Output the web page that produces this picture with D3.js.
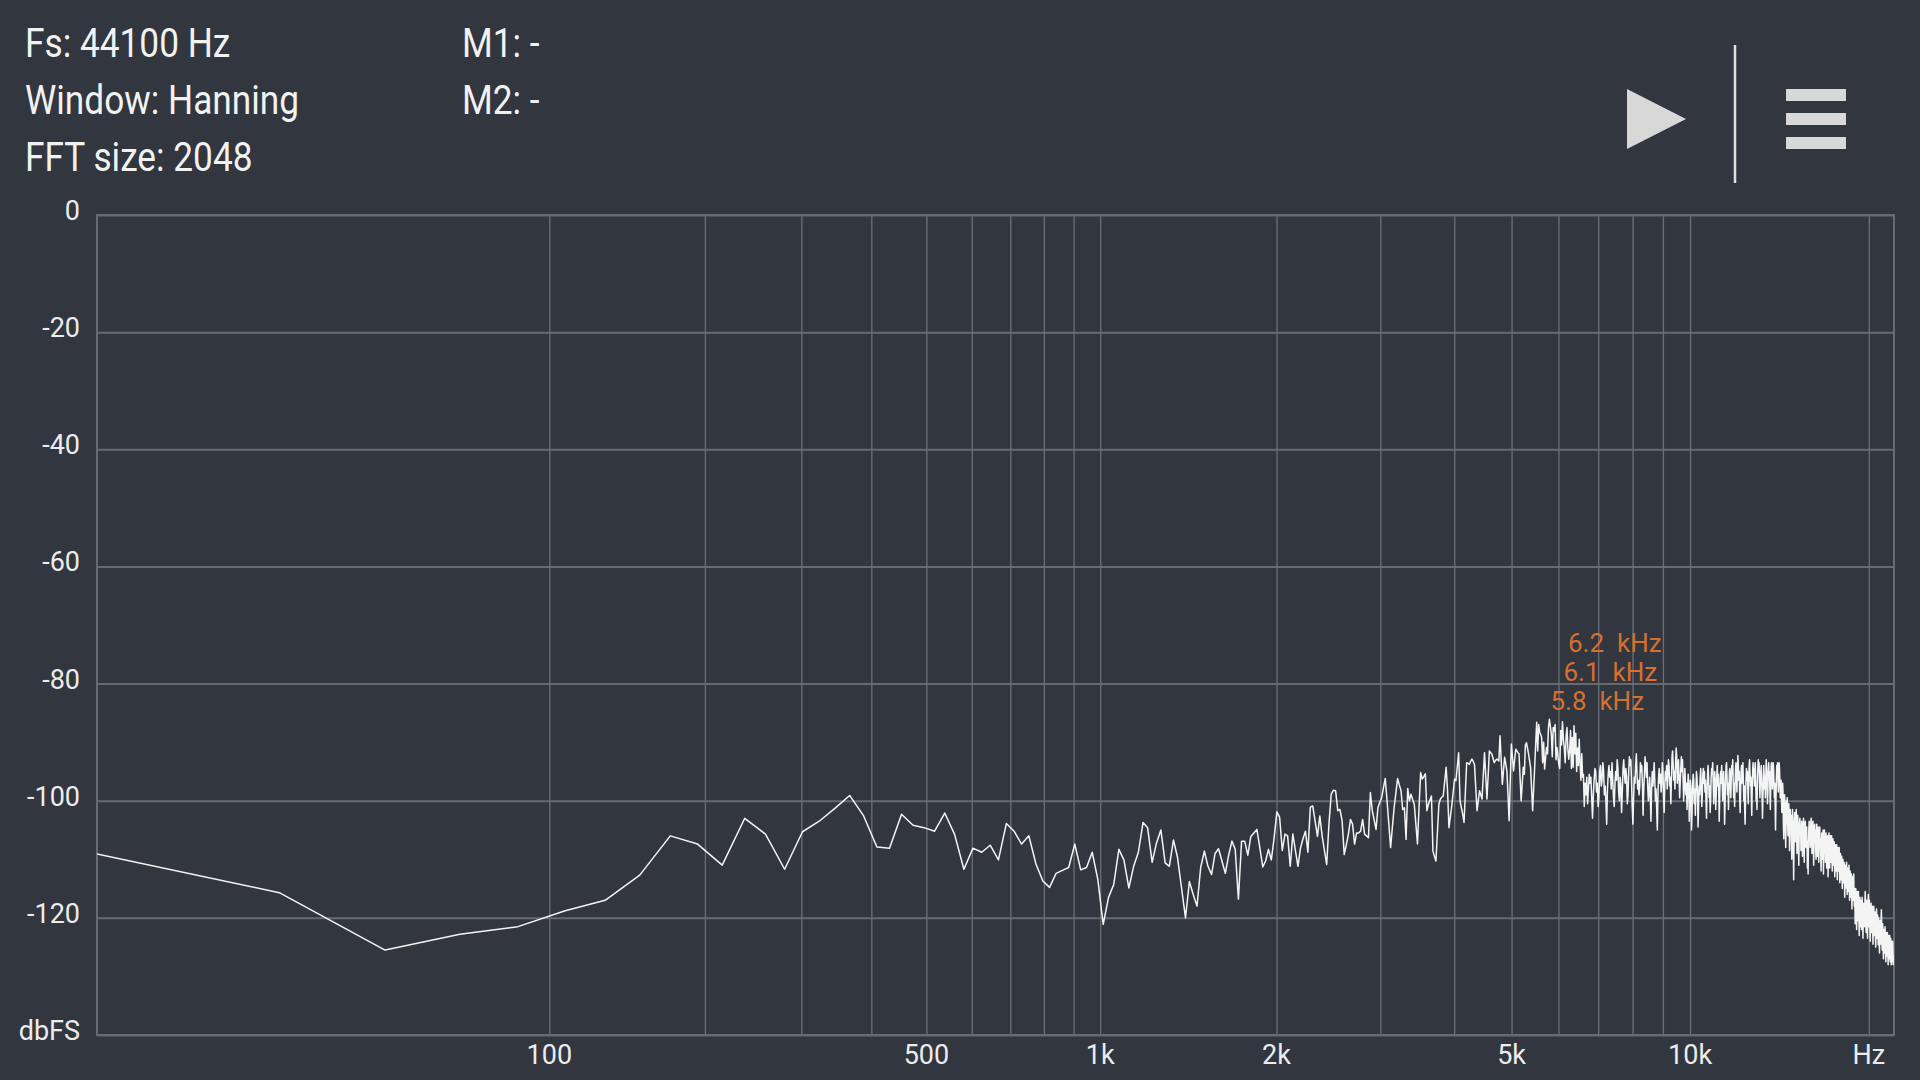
<!DOCTYPE html>
<html><head><meta charset="utf-8">
<script src="https://cdn.jsdelivr.net/npm/d3@7"></script>
<style>
html,body{margin:0;padding:0;background:#31363f;overflow:hidden;}
svg{display:block;}
text{font-family:Roboto,"Noto Sans",sans-serif;}
</style></head><body>
<svg id="chart" width="1920" height="1080"></svg>
<script>
// ---------- data ----------
const SAMPLE_RATE = 44100;
const FFT_SIZE = 2048;
const infoLines = ["Fs: 44100 Hz", "Window: Hanning", "FFT size: 2048"];
const markerSlots = ["M1: -", "M2: -"];

// magnitude per FFT bin (dBFS), bin k = k * SAMPLE_RATE / FFT_SIZE
const dbfs = [
-109.1,-115.7,-125.5,-122.8,-121.5,-118.8,-117.0,-112.7,-106.0,-107.4,
-111.0,-103.0,-105.7,-111.7,-105.3,-103.5,-101.3,-99.1,-102.6,-107.9,
-108.1,-102.3,-104.2,-104.6,-105.2,-102.1,-105.7,-111.7,-108.1,-108.8,
-107.6,-110.1,-103.9,-105.2,-107.4,-106.0,-110.8,-113.7,-114.8,-112.4,
-111.9,-111.4,-107.4,-111.8,-111.4,-108.8,-113.4,-121.1,-116.5,-114.3,
-108.3,-110.1,-114.9,-111.2,-108.8,-103.7,-104.6,-110.5,-107.2,-105.0,
-110.6,-111.2,-106.7,-109.7,-114.9,-120.0,-113.8,-116.0,-118.0,-111.4,
-108.6,-111.2,-112.6,-109.0,-108.2,-110.3,-112.4,-109.3,-106.9,-108.3,
-116.8,-106.9,-106.9,-109.3,-106.1,-105.5,-104.9,-108.0,-111.3,-110.3,
-108.3,-110.1,-106.4,-101.9,-102.8,-108.5,-105.7,-106.0,-111.2,-105.7,
-108.5,-111.2,-108.1,-106.5,-105.2,-108.8,-101.1,-100.9,-103.5,-106.1,
-102.6,-106.0,-108.5,-110.9,-104.0,-98.9,-98.2,-98.3,-101.7,-101.5,
-103.4,-109.2,-107.5,-105.7,-103.2,-104.0,-107.4,-105.5,-105.5,-105.2,
-103.2,-105.7,-106.0,-106.3,-98.6,-101.7,-103.3,-104.9,-101.2,-100.3,
-99.5,-97.8,-96.2,-100.0,-104.0,-108.0,-104.5,-101.2,-98.7,-96.2,
-97.3,-98.3,-101.5,-101.2,-106.6,-97.9,-100.0,-98.9,-99.8,-100.6,
-104.0,-107.4,-101.0,-95.2,-96.3,-95.9,-95.4,-101.7,-100.6,-99.9,
-99.2,-108.6,-109.5,-110.3,-105.4,-100.6,-99.7,-99.4,-99.2,-96.7,
-94.3,-98.3,-104.6,-102.7,-100.9,-98.6,-96.3,-96.6,-94.2,-91.8,
-100.0,-101.2,-102.3,-103.7,-98.6,-93.5,-93.6,-93.8,-93.3,-92.9,
-93.3,-93.8,-97.8,-101.7,-100.0,-98.3,-99.0,-99.7,-95.7,-91.8,
-95.8,-99.7,-95.6,-91.5,-91.8,-92.0,-92.7,-93.5,-93.2,-92.9,
-93.0,-93.2,-88.9,-93.0,-97.2,-94.9,-92.6,-93.7,-94.9,-99.1,
-103.4,-96.8,-90.3,-92.6,-94.9,-93.0,-91.2,-91.5,-91.8,-92.0,
-96.0,-100.0,-97.2,-94.3,-95.5,-90.5,-90.1,-91.0,-92.0,-93.2,
-94.3,-98.0,-101.7,-98.0,-94.3,-90.4,-86.6,-91.5,-87.0,-88.3,
-88.7,-89.2,-93.5,-90.0,-94.6,-92.7,-90.9,-92.0,-87.5,-86.1,
-87.3,-88.6,-92.5,-87.5,-88.1,-87.0,-93.0,-90.9,-92.3,-93.8,
-94.5,-88.0,-90.5,-86.5,-89.5,-91.0,-93.5,-89.0,-87.5,-91.2,
-92.9,-91.5,-88.0,-94.5,-89.2,-94.3,-87.2,-92.0,-88.5,-95.0,
-91.0,-94.0,-89.5,-93.5,-96.5,-92.0,-96.0,-95.5,-101.0,-97.0,
-99.0,
-96,-100.5,-98,-95.5,-97,-96,-99.5,-103,-99,-96.5,
-94.5,-95,-98.5,-97,-101,-99.5,-95,-94,-97.5,-96.5,
-93.5,-95,-99,-97.5,-100,-104,-98,-95.5,-94,-96,
-95,-98,-93.5,-96.5,-99.5,-101,-97,-95,-96.5,-93,
-94.5,-98.5,-100,-96,-97.5,-102,-98.5,-94.5,-93,-95.5,
-97,-94.5,-96,-100.5,-99,-95,-92.5,-94,-93,-96.5,
-101,-104,-99.5,-96,-97,-94,-92,-95.5,-98,-96.5,
-99,-97.5,-93.5,-95,-94,-97,-102.5,-98,-95.5,-92.5,
-94,-96,-93.5,-97.5,-100,-98.5,-96,-99.5,-103.5,-98,
-95,-97.5,-96,-93.5,-96.5,-100,-98,-101.5,-105,-99,
-96,-94.5,-97,-95.5,-98.5,-97,-93.5,-95,-99.5,-102,
-97.5,-95,-96.5,-94,-98,
-95.5,-93,-94,-97.5,-96,-100.5,-96.5,-92.5,-91.5,-94,
-96.5,-95,-98,-93.5,-91,-92.5,-97,-95.5,-93,-96,
-99.5,-97,-94.5,-92.5,-95,-93,-96.5,-100,-98,-94.5,
-96.5,-99,-97,-101.5,-98.5,-95.5,-97,-103.5,-100,-96.5,
-98,-105,-102,-97.5,-95.5,-96.5,-100.5,-98,-102.5,-99,
-95,-96,-98.5,-104.5,-101,-97.5,-99,-96,-94.5,-97.5,
-101,-99,-95.5,-94.5,-97,
-95,-98.5,-96.5,-100,-103,-98.5,-95.5,-94,-96,-99.5,
-97.5,-102,-100,-96,-94.5,-95.5,-93.5,-97,-100.5,-98,
-95,-96.5,-101.5,-99,-96,-94,-97.5,-95.5,-98.5,-103.5,
-99.5,-96,-95,-97,-94,-96.5,-100,-97.5,-95,-98,
-104,-100.5,-96.5,-94,-93.5,-96,-99,-97,-101.5,-98,
-95,-94.5,-97.5,-99.5,-96,
-94,-95.5,-93,-96.5,-99.5,-97,-101,-97.5,-94.5,-93.5,
-96,-98.5,-95.5,-92.3,-94,-96.5,-95,-99.5,-102,-98.5,
-95,-94,-97,-95.5,-93.5,-96.5,-100,-97.5,-101.5,-104,
-99,-96,-94.5,-96.5,-95,-98,-100.5,-96.5,-94,-93,
-95.5,-97.5,-96,-99.5,-102.5,-98,-95,-93.5,-96,-94.5,
-97.5,-95,-93.5,-96.5,-100,-98.5,-101.5,-97,-94.5,-93,
-95,-93.5,-97,-99.5,-96.5,-95,-94,-96.5,-99,-103,
-99.5,-96.5,-94,-95.5,-98,-96.5,-99.5,-95.5,-93,-94.5,
-97,-100.5,-98.5,-95,-93.5,-96,-95,-98.5,-101.5,-97.5,
-94,-93.5,-96,-98,-96.5,-93.5,-94.5,-97,-99.5,-97,
-101,-105,-100,-96.5,-94,-95,-93.5,-96.5,-98.5,-95,
-93.5,-94.5,-97,-99.5,-98,
-96.5,-99.5,-102,-100,-97,-98.5,-104,-106.5,-101.5,-99,
-100.5,-104.5,-108,-103.5,-100,-101,-99.5,-104,-106,-102,
-100.5,-103,-108.5,-104.5,-101.5,-104,-102.5,-106.5,-110,-105,
-101.5,-103.5,-107.5,-113.5,-108,-103.5,-102,-104.5,-107,-103.5,
-101.5,-105,-109,-105,-102.5,
-104,-107.5,-111,-106.5,-104,-103,-105.5,-104.5,-108.5,-106,
-103.5,-105,-109.5,-107,-104.5,-103,-106.5,-110.5,-106,-104,
-103.5,-105,-108,-106,-104.5,-107.5,-111.5,-107,
-112.5,-108,-105,-103.5,-106,-104.5,-108,-106,-103.5,-103,
-105.5,-109,-106.5,-104,-103.5,-107,-111,-107.5,-105,-104,
-106.5,-105,-108.5,-110,-106,-104,-106,-109.5,-106.5,
-104.5,-107,-110.5,-108,-105,-104.5,-108,-106.5,-109.5,-112,
-108,-105.5,-106.5,-110,-107.5,-105,-112.5,-109,-106,-105,
-108,-107,-110.5,-107.5,-105.5,-109,-111.5,-108,-106,-107.5,
-113,-109.5,-106.5,-105.5,-108,-111.5,-108.5,-106,-108,-110.5,
-107.5,-106,-109,-112,-109,-106.5,-107.5,-111,-109,-107,
-110.5,-113,-109.5,-107.5,-108.5,-112,-110,-107.5,-109,-113.5,
-110.5,-108,-109.5,-112,-110,-108,-111,-114,-110.5,-109,
-111.5,
-113.5,-111,-109.5,-112,-115,-112,-110,-111.5,-114,-112.5,
-110.5,-113,-116.5,-113,-111,-112.5,-114.9,-112,-110.5,-113.5,
-116,-113.5,-111.5,-113,-115.5,-112.5,-111,-114,-117,-114,
-112,-113.5,-116.5,-114,-112.5,-115,-118.5,-115,-113,-114.6,
-117,-114.5,-112.5,-115.5,-118,
-115,-117.5,-121,-118,-115,-116.5,-120,-122,-118,-115.5,
-117.5,-120.5,-117.5,-115.5,-118,-121,-123,-119,-116.5,-118.5,
-121.5,-119,-117,-118.5,-122,-119.5,-116.5,-118,-121,-123.5,
-120,-117.5,-119,-121,
-121.5,-119,-117,-115.5,-118,-120.5,-122.5,-119.5,-117,-118.5,
-121,-123.5,-120.5,-117.5,-116,-118.5,-121.5,-119,-117,-119,
-122,-124,-121,-118.5,-117.5,-120,-122.5,-120,-118,-119.5,
-122.5,-124.5,-121.5,-119,-118,-120.5,-123,-121,-119,-120.5,
-123.5,-125,-122,-119.5,-118.5,-121,-123.5,-121.5,
-119.5,-121.5,-124.6,-122,-120,-121.5,-124,-126,-123,-120.5,
-121.5,-124.5,-122.5,-120.5,-118.6,-120.5,-123.5,-125.5,-122.5,-121,
-123,-125.5,-127,-124,-122,-123.5,-126,-124,-121.5,-123,
-125.1,-127.5,-124.5,-122.5,-124,-126.5,-124.5,-122.5,-124,-126.5,
-128,-125,-123,-124.5,-127,-125,-123,-125,-127.5,-125.5,
-123.5,-125.5,-128,-126,-124,-125.5,-127.5,-125.5,-124,-126,
-128,-126.5,-126.8,-127
];

const peakBins   = [269, 283, 288];
const peakLabels = ["5.8  kHz", "6.1  kHz", "6.2  kHz"];

const yTicks      = [0, -20, -40, -60, -80, -100, -120];
const yTickLabels = ["0", "-20", "-40", "-60", "-80", "-100", "-120"];
const yUnitLabel  = "dbFS";
const yMin = -140;

const xGridFreqs  = [100,200,300,400,500,600,700,800,900,1000,
                     2000,3000,4000,5000,6000,7000,8000,9000,10000,20000];
const xTickFreqs  = [100, 500, 1000, 2000, 5000, 10000, 20000];
const xTickLabels = ["100", "500", "1k", "2k", "5k", "10k", "Hz"];

// ---------- layout ----------
const BG = "#31363f";
const GRID = "#666a71";
const FREQ_OFFSET = 21;          // log(f + offset) frequency mapping
const plot = {left: 97, right: 1894, top: 215, bottom: 1035};
const binWidth = SAMPLE_RATE / FFT_SIZE;
const nyquist = SAMPLE_RATE / 2;

const svg = d3.select("#chart");
svg.append("rect").attr("width", 1920).attr("height", 1080).attr("fill", BG);

const xs = d3.scaleLog()
  .domain([FREQ_OFFSET, nyquist + FREQ_OFFSET])
  .range([plot.left, plot.right]);
const x = f => xs(f + FREQ_OFFSET);
const y = d3.scaleLinear().domain([0, yMin]).range([plot.top, plot.bottom]);

// horizontal grid
const yGridAxis = d3.axisLeft(y).tickValues(yTicks.concat([yMin]))
  .tickSize(-(plot.right - plot.left)).tickFormat("");
const gy = svg.append("g").attr("transform", `translate(${plot.left},0)`).call(yGridAxis);
gy.select(".domain").remove();
gy.selectAll(".tick line").attr("stroke", GRID).attr("stroke-width", 2);

// vertical grid
const xGridAxis = d3.axisBottom(xs).tickValues(xGridFreqs.map(f => f + FREQ_OFFSET))
  .tickSize(-(plot.bottom - plot.top)).tickFormat("");
const gx = svg.append("g").attr("transform", `translate(0,${plot.bottom})`).call(xGridAxis);
gx.select(".domain").remove();
gx.selectAll(".tick line").attr("stroke", "#6c7076").attr("stroke-width", 1.3);

// frame
svg.append("rect")
  .attr("x", plot.left).attr("y", plot.top)
  .attr("width", plot.right - plot.left).attr("height", plot.bottom - plot.top)
  .attr("fill", "none").attr("stroke", GRID).attr("stroke-width", 2);

// y labels
svg.append("g").selectAll("text").data(yTicks).join("text")
  .attr("x", 80).attr("y", d => y(d) + 5)
  .attr("text-anchor", "end").attr("fill", "#ececec").attr("font-size", 27)
  .text((d, i) => yTickLabels[i]);
svg.append("text").attr("x", 80).attr("y", y(yMin) + 5)
  .attr("text-anchor", "end").attr("fill", "#ececec").attr("font-size", 27)
  .text(yUnitLabel);

// x labels
svg.append("g").selectAll("text").data(xTickFreqs).join("text")
  .attr("x", d => x(d)).attr("y", 1064)
  .attr("text-anchor", "middle").attr("fill", "#ececec").attr("font-size", 27)
  .text((d, i) => xTickLabels[i]);

// spectrum line
svg.append("clipPath").attr("id", "clip").append("rect")
  .attr("x", plot.left).attr("y", plot.top)
  .attr("width", plot.right - plot.left).attr("height", plot.bottom - plot.top);
const line = d3.line()
  .x((d, i) => x(i * binWidth))
  .y(d => y(d));
svg.append("path").datum(dbfs)
  .attr("clip-path", "url(#clip)")
  .attr("d", line)
  .attr("fill", "none").attr("stroke", "#f4f4f4").attr("stroke-width", 1.5)
  .attr("stroke-linejoin", "round");

// peak labels (stacked)
let prevBase = Infinity;
peakBins.forEach((k, i) => {
  const base = Math.min(y(dbfs[k]) - 9, prevBase - 29);
  prevBase = base;
  svg.append("text")
    .attr("x", x(k * binWidth) + 1).attr("y", base)
    .attr("fill", "#d5702f").attr("font-size", 26)
    .attr("xml:space", "preserve").style("white-space", "pre")
    .text(peakLabels[i]);
});

// header info (condensed)
const headerBaselines = [57, 113.5, 171];
infoLines.forEach((t, i) => {
  svg.append("text")
    .attr("transform", `translate(25,${headerBaselines[i]}) scale(0.86,1)`)
    .attr("fill", "#f2f2f2").attr("font-size", 41).text(t);
});
markerSlots.forEach((t, i) => {
  svg.append("text")
    .attr("transform", `translate(462,${headerBaselines[i]}) scale(0.86,1)`)
    .attr("fill", "#f2f2f2").attr("font-size", 41).text(t);
});

// toolbar icons
const ICON = "#d8d8d8";
svg.append("path").attr("d", "M1627,89 L1627,149 L1686,119 Z").attr("fill", ICON);
svg.append("line").attr("x1", 1735).attr("x2", 1735).attr("y1", 45).attr("y2", 183)
  .attr("stroke", "#e0e0e0").attr("stroke-width", 2.5);
[89, 113, 137].forEach(yy => {
  svg.append("rect").attr("x", 1786).attr("y", yy).attr("width", 60).attr("height", 12)
    .attr("fill", ICON);
});
</script>
</body></html>
